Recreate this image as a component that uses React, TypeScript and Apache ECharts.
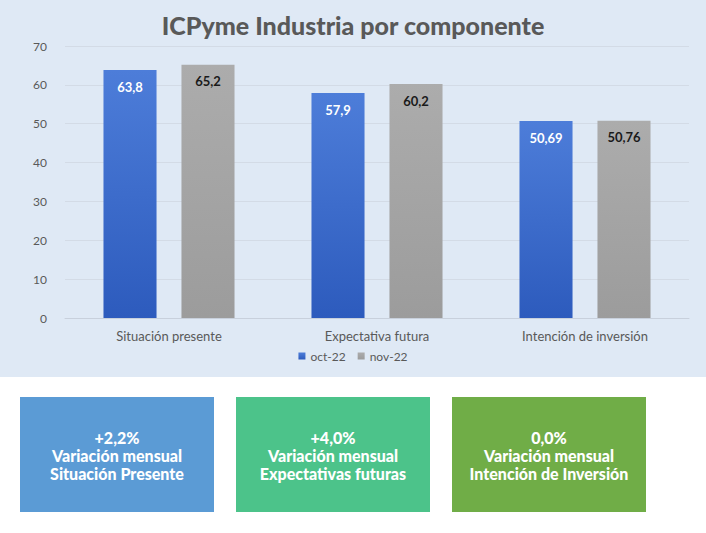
import React, { useEffect, useRef } from "react";
import * as echarts from "echarts";

const categories = ["Situación presente", "Expectativa futura", "Intención de inversión"];
const octValues = [63.8, 57.9, 50.69];
const novValues = [65.2, 60.2, 50.76];
const seriesNames = ["oct-22", "nov-22"];
const yTicks = { min: 0, max: 70, interval: 10 };
const boxValues = ["+2,2%", "+4,0%", "0,0%"];
const boxLine2 = ["Variación mensual", "Variación mensual", "Variación mensual"];
const boxLine3 = ["Situación Presente", "Expectativas futuras", "Intención de Inversión"];
const boxColors = ["#5b9bd5", "#4cc38a", "#70ad47"];

const FONT = "Lato, 'Noto Sans', sans-serif";

export default function App() {
  const ref = useRef<HTMLDivElement>(null);
  useEffect(() => {
    if (!ref.current) return;
    const chart = echarts.init(ref.current, null, { renderer: "svg" });
    const fmt = (p: any) => String(p.value).replace(".", ",");
    const boxX = [20, 236, 452];
    const graphics: any[] = [
      { type: "rect", z: -10, shape: { x: 0, y: 0, width: 706, height: 377 }, style: { fill: "#dfe9f5" } },
    ];
    boxX.forEach((x, i) => {
      graphics.push({
        type: "rect",
        shape: { x, y: 397, width: 194, height: 115 },
        style: { fill: boxColors[i] },
      });
      [boxValues[i], boxLine2[i], boxLine3[i]].forEach((t, j) => {
        graphics.push({
          type: "text",
          x: x + 97,
          y: 437 + j * 18,
          style: {
            text: t,
            fill: "#ffffff",
            font: "900 16px " + FONT,
            lineHeight: 16,
            align: "center",
            verticalAlign: "middle",
          },
        });
      });
    });
    chart.setOption({
      animation: false,
      title: {
        text: "ICPyme Industria por componente",
        left: "center",
        top: 7,
        textStyle: { color: "#595959", fontSize: 25, fontWeight: 900, fontFamily: FONT },
      },
      legend: {
        data: seriesNames,
        top: 345,
        left: "center",
        itemWidth: 7,
        itemHeight: 7,
        itemGap: 12,
        icon: "rect",
        textStyle: { color: "#595959", fontSize: 12, fontFamily: FONT },
      },
      grid: { left: 65, right: 17, top: 46, bottom: 215, containLabel: false },
      xAxis: {
        type: "category",
        data: categories,
        axisTick: { show: false },
        axisLine: { lineStyle: { color: "#c8d0dc" } },
        axisLabel: { color: "#595959", fontSize: 13, fontFamily: FONT, margin: 11 },
      },
      yAxis: {
        type: "value",
        min: yTicks.min,
        max: yTicks.max,
        interval: yTicks.interval,
        axisLabel: { color: "#595959", fontSize: 12, fontFamily: FONT, margin: 18 },
        splitLine: { lineStyle: { color: "#d3dbe6" } },
        axisLine: { show: false },
      },
      series: [
        {
          name: seriesNames[0],
          type: "bar",
          data: octValues,
          barGap: "47%",
          barCategoryGap: "37%",
          itemStyle: {
            color: new echarts.graphic.LinearGradient(0, 0, 0, 1, [
              { offset: 0, color: "#4d7dd9" },
              { offset: 1, color: "#2d5bbd" },
            ]),
          },
          label: {
            show: true,
            position: "insideTop",
            distance: 10,
            color: "#ffffff",
            fontWeight: "bold",
            fontSize: 13,
            fontFamily: FONT,
            formatter: fmt,
          },
        },
        {
          name: seriesNames[1],
          type: "bar",
          data: novValues,
          itemStyle: {
            color: new echarts.graphic.LinearGradient(0, 0, 0, 1, [
              { offset: 0, color: "#acacac" },
              { offset: 1, color: "#9c9c9c" },
            ]),
          },
          label: {
            show: true,
            position: "insideTop",
            distance: 10,
            color: "#1a1a1a",
            fontWeight: "bold",
            fontSize: 13,
            fontFamily: FONT,
            formatter: fmt,
          },
        },
      ],
      graphic: graphics,
    });
    return () => chart.dispose();
  }, []);
  return (
    <div
      ref={ref}
      style={{ position: "fixed", left: 0, top: 0, width: 706, height: 533, background: "#ffffff" }}
    />
  );
}
